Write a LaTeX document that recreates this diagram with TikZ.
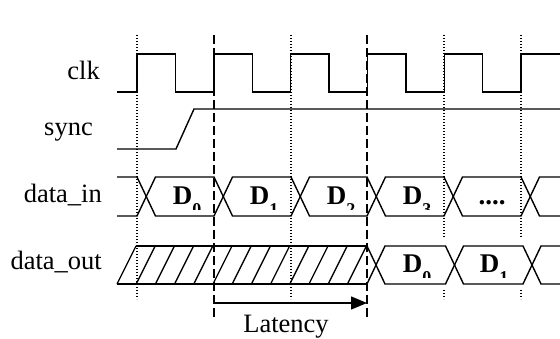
\documentclass[tikz,border=0pt]{standalone}
\usepackage{fontspec}
\setmainfont{Liberation Serif}
\usetikzlibrary{arrows.meta}
\tikzset{
  wave/.style={line width=1.4pt, line join=miter},
  hatchln/.style={line width=1.3pt},
  dotln/.style={line width=1.2pt, dash pattern=on 1.3pt off 1.7pt},
  dashln/.style={line width=1.3pt, dash pattern=on 9pt off 4pt},
  sig/.style={font=\fontsize{26.5}{30}\selectfont, inner sep=0pt, anchor=base east},
  dtext/.style={font=\fontsize{27}{30}\selectfont\bfseries, inner sep=0pt, anchor=base},
  latarrow/.style={line width=1.4pt, -{Triangle[length=16pt,width=13pt]}}
}
\newcommand{\dlab}[4]{%
  \begin{scope}
    \clip ({#2-40},{#3-30}) rectangle ({#2+40},{#3+4.3});
    \node[dtext] (#1) at (#2,#3) {D\raisebox{-11pt}{\fontsize{18}{18}\selectfont #4}};
  \end{scope}}
\begin{document}
\begin{tikzpicture}[x=1pt,y=-1pt]
\useasboundingbox (0,0) rectangle (560,339);
% guide lines
\foreach \x in {137,291} \draw[dotln] (\x,35) -- (\x,299);
\foreach \x in {444,521} {\draw[dotln] (\x,35) -- (\x,238); \draw[dotln] (\x,290) -- (\x,299);}
\draw[dashln] (214,35) -- (214,317);
\draw[dashln] (367,35) -- (367,318);
% labels
\node[sig] (lclk) at (100,80) {clk};
\node[sig] (lsync) at (93,136) {sync};
\node[sig] (ldin) at (102,203) {data\_in};
\node[sig] (ldout) at (102,270) {data\_out};
% clk
\draw[wave] (117,92) -- (137,92)
  foreach \k in {0,...,4} { -- ({137+76.8*\k},54) -- ({175.4+76.8*\k},54) -- ({175.4+76.8*\k},92) -- ({213.8+76.8*\k},92) }
  -- (521,54) -- (560,54);
% sync
\draw[wave] (117,149) -- (176,149) -- (194,109) -- (560,109);
% data_in
\draw[wave] (117,177)--(137,177)--(155.5,216)--(214,216)--(232.5,177)--(291,177)--(309.5,216)--(367,216)--(385.5,177)--(444,177)--(462.5,216)--(521,216)--(539.5,177)--(560,177);
\draw[wave] (117,216)--(137,216)--(155.5,177)--(214,177)--(232.5,216)--(291,216)--(309.5,177)--(367,177)--(385.5,216)--(444,216)--(462.5,177)--(521,177)--(539.5,216)--(560,216);
\dlab{din0}{187}{205}{0}
\dlab{din1}{264}{205}{1}
\dlab{din2}{341}{205}{2}
\dlab{din3}{417}{205}{3}
\node[dtext] (dindots) at (492,205) {....};
% data_out
\draw[wave] (136,246) -- (367,246);
\draw[wave] (117,284) -- (367,284);
\foreach \k in {0,...,12} \draw[hatchln] ({117+19.2*\k},284) -- ({136+19.2*\k},246);
\draw[wave] (367,246)--(385,284)--(445.5,284)--(463.5,246)--(523,246)--(541,284)--(560,284);
\draw[wave] (367,284)--(385,246)--(445.5,246)--(463.5,284)--(523,284)--(541,246)--(560,246);
\dlab{dout0}{417}{273}{0}
\dlab{dout1}{494}{273}{1}
% latency
\coordinate (lat0) at (214,303);
\coordinate (lat1) at (367,303);
\draw[latarrow] (lat0) -- (lat1);
\node[sig, anchor=base] (llat) at (286,333) {Latency};
\end{tikzpicture}
\end{document}
